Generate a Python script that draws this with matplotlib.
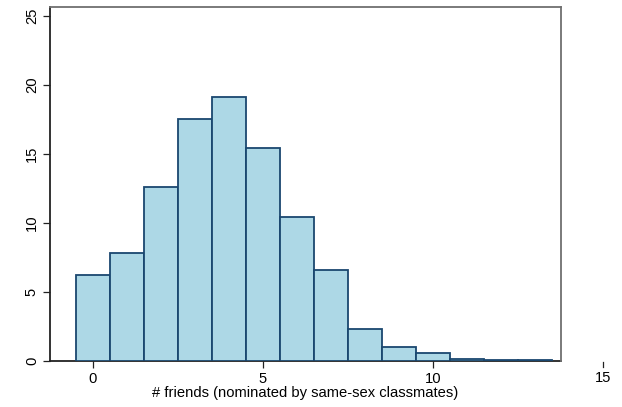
import matplotlib
matplotlib.use('Agg')
import matplotlib.pyplot as plt
import matplotlib.transforms as mtrans

# number of friends (bin centres) and percent of students
friends = [0, 1, 2, 3, 4, 5, 6, 7, 8, 9, 10, 11, 12, 13]
percent = [6.25, 7.8, 12.6, 17.55, 19.1, 15.45, 10.4, 6.6, 2.35, 0.98, 0.57, 0.13, 0.06, 0.06]
xticks = [0, 5, 10]
yticks = [0, 5, 10, 15, 20, 25]
xlabel = '# friends (nominated by same-sex classmates)'

plt.rcParams['font.family'] = ['Liberation Sans', 'DejaVu Sans']
fsize = 10.6

fig = plt.figure(figsize=(6.22, 4.07), dpi=100)
ax = fig.add_axes([50 / 622, 1 - 361 / 407, 511 / 622, 354 / 407])

ax.bar(friends, percent, width=1.0, color='#add8e6', edgecolor='#1a476f',
       linewidth=1.3, zorder=3)

ax.set_xlim(-1.26, 13.76)
ax.set_ylim(0, 25.65)
ax.set_xticks(xticks)
ax.set_yticks(yticks)
ax.set_yticklabels([str(v) for v in yticks], rotation=90, va='center')
ax.tick_params(axis='both', labelsize=fsize, length=5, width=0.9, color='#222222',
               pad=3)
ax.tick_params(axis='x', pad=3)
ax.set_xlabel(xlabel, fontsize=fsize, labelpad=0)

for side in ['left', 'bottom']:
    ax.spines[side].set_color('#222222')
    ax.spines[side].set_linewidth(1.3)
    ax.spines[side].set_zorder(2)
for side in ['top', 'right']:
    ax.spines[side].set_color('#707070')
    ax.spines[side].set_linewidth(1.3)

# Stata draws the 15 tick beyond the plot region
trans = mtrans.blended_transform_factory(ax.transData, ax.transAxes)
ax.plot([15, 15], [-0.004, -0.017], transform=trans, color='#222222',
        linewidth=0.9, clip_on=False)
ax.text(15, -0.028, '15', transform=trans, ha='center', va='top',
        fontsize=fsize, clip_on=False)

fig.savefig('out.png', dpi=100)
